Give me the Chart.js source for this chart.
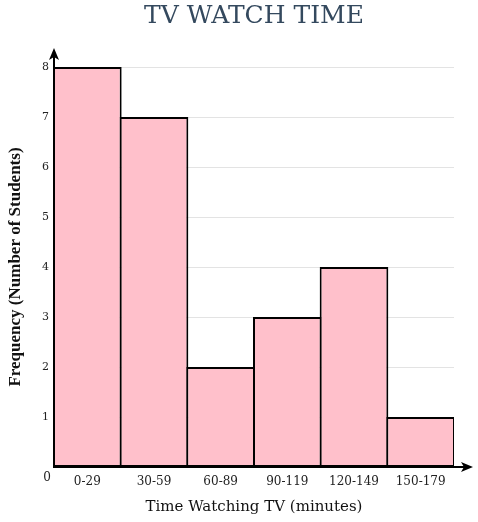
<!DOCTYPE html>
<html>
<head>
<meta charset="utf-8">
<script src="https://cdn.jsdelivr.net/npm/chart.js@4"></script>
<style>
html,body{margin:0;padding:0;background:#fff;}
#wrap{width:478px;height:522px;position:relative;}
</style>
</head>
<body>
<div id="wrap"><canvas id="c"></canvas></div>
<script>
const categories = ['0-29','30-59','60-89','90-119','120-149','150-179'];
const frequencies = [8, 7, 2, 3, 4, 1];
const yTicks = [1, 2, 3, 4, 5, 6, 7, 8];

const SERIF = '"DejaVu Serif", "Liberation Serif", serif';
const TIMES = '"Liberation Serif", "DejaVu Serif", serif';

const axisArrows = {
  id: 'axisArrows',
  afterDraw(chart) {
    const ctx = chart.ctx;
    const a = chart.chartArea;
    const x0 = a.left, y0 = a.bottom;
    ctx.save();
    ctx.strokeStyle = '#000';
    ctx.fillStyle = '#000';
    ctx.lineWidth = 2;
    // y axis
    ctx.beginPath();
    ctx.moveTo(x0, y0 + 1);
    ctx.lineTo(x0, a.top - 13);
    ctx.stroke();
    ctx.beginPath();
    ctx.moveTo(x0, a.top - 19);
    ctx.lineTo(x0 - 5, a.top - 7);
    ctx.lineTo(x0, a.top - 10);
    ctx.lineTo(x0 + 5, a.top - 7);
    ctx.closePath();
    ctx.fill();
    // x axis
    ctx.beginPath();
    ctx.moveTo(x0 - 1, y0);
    ctx.lineTo(a.right + 13, y0);
    ctx.stroke();
    ctx.beginPath();
    ctx.moveTo(a.right + 19, y0);
    ctx.lineTo(a.right + 7, y0 - 5);
    ctx.lineTo(a.right + 10, y0);
    ctx.lineTo(a.right + 7, y0 + 5);
    ctx.closePath();
    ctx.fill();
    // origin label
    ctx.font = '12px ' + SERIF;
    ctx.fillStyle = '#222';
    ctx.textAlign = 'center';
    ctx.textBaseline = 'middle';
    ctx.fillText('0', x0 - 7, y0 + 11);
    ctx.restore();
  }
};

new Chart(document.getElementById('c'), {
  type: 'bar',
  data: {
    labels: categories,
    datasets: [{
      data: frequencies,
      backgroundColor: '#ffc0cb',
      borderColor: '#000',
      borderWidth: 2,
      borderSkipped: false,
      categoryPercentage: 1.0,
      barPercentage: 1.03
    }]
  },
  options: {
    responsive: true,
    maintainAspectRatio: false,
    animation: false,
    layout: { padding: { top: 0, right: 24, bottom: 0, left: 0 } },
    plugins: {
      legend: { display: false },
      tooltip: { enabled: false },
      title: {
        display: true,
        fullSize: false,
        text: 'TV WATCH TIME',
        color: '#34495e',
        font: { family: SERIF, size: 25, weight: 'normal', lineHeight: 1.2 },
        padding: { top: 1, bottom: 36 }
      }
    },
    scales: {
      x: {
        afterFit(s) { s.height = 55; },
        grid: { display: false, drawTicks: false },
        border: { display: false },
        ticks: { color: '#222', font: { family: SERIF, size: 12 }, padding: 8, maxRotation: 0 },
        title: {
          display: true,
          text: 'Time Watching TV (minutes)',
          color: '#111',
          font: { family: SERIF, size: 15, lineHeight: 1.2 },
          padding: { top: 0, bottom: 6 }
        }
      },
      y: {
        min: 0,
        max: 8,
        afterFit(s) { s.width = 54; },
        afterBuildTicks(scale) {
          scale.ticks = yTicks.map(v => ({ value: v }));
        },
        grid: { color: '#e3e3e3', lineWidth: 1, drawTicks: false },
        border: { display: false },
        ticks: { color: '#222', font: { family: SERIF, size: 11 }, padding: 5 },
        title: {
          display: true,
          text: 'Frequency (Number of Students)',
          color: '#111',
          font: { family: TIMES, size: 17, weight: 'bold', lineHeight: 1.2 },
          padding: { top: 5, bottom: 0 }
        }
      }
    }
  },
  plugins: [axisArrows]
});
</script>
</body>
</html>
